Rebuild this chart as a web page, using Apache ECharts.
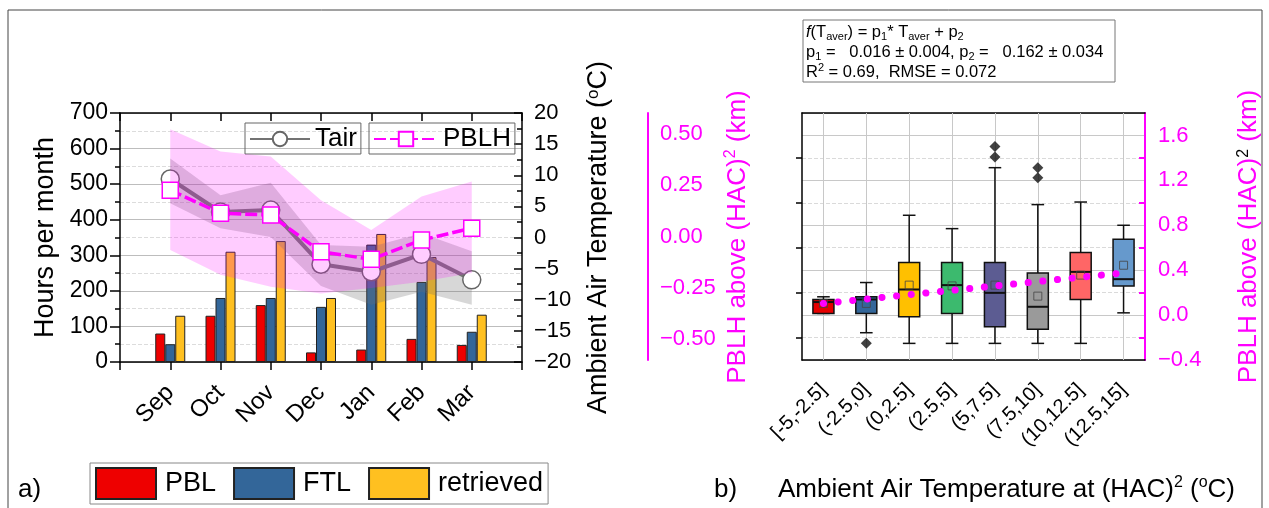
<!DOCTYPE html>
<html>
<head>
<meta charset="utf-8">
<script src="https://cdn.jsdelivr.net/npm/echarts@6/dist/echarts.min.js"></script>
<style>
  html, body { margin: 0; padding: 0; background: #fff; }
  #chart { width: 1269px; height: 508px; }
</style>
</head>
<body>
<div id="chart"></div>
<script>
// panel a) monthly hours (bars) + Tair / PBLH (lines with ranges)
const months = ['Sep', 'Oct', 'Nov', 'Dec', 'Jan', 'Feb', 'Mar']
const pbl = [80, 130, 160, 27, 35, 65, 48]
const ftl = [50, 180, 180, 155, 330, 225, 85]
const retrieved = [130, 310, 340, 180, 360, 295, 133]
const tair = [9.4, 4.1, 4.4, -4.3, -5.5, -2.7, -6.8]
const tairLow = [5.5, 1.5, 0.1, -7.8, -10.8, -8.7, -10.8]
const tairHigh = [12.7, 6.8, 8.8, -1.2, -1.5, 0.7, -2.2]
const pblh = [7.6, 3.9, 3.6, -2.3, -3.5, -0.4, 1.5]
const pblhLow = [-2.0, -6.0, -7.9, -9.0, -8.1, -7.1, -5.7]
const pblhHigh = [17.4, 13.8, 13.0, 6.0, 1.2, 6.6, 9.0]

// panel b) PBLH above (HAC)^2 per temperature bin
const bins = ['[-5,-2.5]', '(-2.5,0]', '(0,2.5]', '(2.5,5]', '(5,7.5]', '(7.5,10]', '(10,12.5]', '(12.5,15]']
const boxColors = ['#e60000', '#336699', '#ffc000', '#3cba6e', '#5c5c92', '#9a9a9a', '#ff6666', '#6699cc']
const whiskLow = [0.015, -0.157, -0.252, -0.252, -0.252, -0.252, -0.252, 0.02]
const q1 = [0.015, 0.015, -0.015, 0.015, -0.104, -0.127, 0.139, 0.258]
const median = [0.116, 0.139, 0.228, 0.267, 0.198, 0.074, 0.385, 0.32]
const q3 = [0.139, 0.163, 0.468, 0.468, 0.468, 0.376, 0.557, 0.676]
const whiskHigh = [0.163, 0.29, 0.889, 0.77, 1.313, 0.984, 1.007, 0.8]
const means = [0.104, 0.104, 0.267, 0.26, 0.267, 0.169, 0.356, 0.444]
const outliers = [[1, -0.25], [4, 1.407], [4, 1.502], [5, 1.224], [5, 1.313]]
const fitEnds = [0.104, 0.376]
const leftKmTicks = [-0.5, -0.25, 0, 0.25, 0.5]
const leftKmMinor = [-0.583, -0.417, -0.333, -0.167, -0.083, 0.083, 0.167, 0.333, 0.417, 0.583]

const FONT = 'Liberation Sans, Arial, Helvetica, sans-serif'
const MAG = '#ff00ff'
const minus = v => String(v).replace('-', '\u2212')
const pts = arr => arr.map((v, i) => [i + 1, v])

const chart = echarts.init(document.getElementById('chart'))

// shaded range between low and high, drawn once as a polygon
function band(lows, highs, color) {
  return (params, api) => {
    if (params.dataIndex !== 0) return null
    const top = highs.map((v, i) => api.coord([i + 1, v]))
    const bottom = lows.map((v, i) => api.coord([i + 1, v])).reverse()
    return { type: 'polygon', shape: { points: top.concat(bottom) }, style: { fill: color } }
  }
}

function renderBox(params, api) {
  const i = api.value(0)
  const half = api.size([1, 0])[0] * 0.245
  const cap = half * 0.6
  const lo = api.coord([i, api.value(1)])
  const b = api.coord([i, api.value(2)])
  const m = api.coord([i, api.value(3)])
  const t = api.coord([i, api.value(4)])
  const hi = api.coord([i, api.value(5)])
  const x = b[0]
  const ln = { stroke: '#111', lineWidth: 1.5 }
  return {
    type: 'group',
    children: [
      { type: 'line', shape: { x1: x, y1: hi[1], x2: x, y2: t[1] }, style: ln },
      { type: 'line', shape: { x1: x, y1: b[1], x2: x, y2: lo[1] }, style: ln },
      { type: 'line', shape: { x1: x - cap, y1: hi[1], x2: x + cap, y2: hi[1] }, style: ln },
      { type: 'line', shape: { x1: x - cap, y1: lo[1], x2: x + cap, y2: lo[1] }, style: ln },
      { type: 'rect', shape: { x: x - half, y: t[1], width: half * 2, height: b[1] - t[1] },
        style: { fill: boxColors[i], stroke: '#111', lineWidth: 1.5 } },
      { type: 'line', shape: { x1: x - half, y1: m[1], x2: x + half, y2: m[1] }, style: { stroke: '#111', lineWidth: 2 } }
    ]
  }
}

const supRich = size => ({ sup: { fontSize: size, verticalAlign: 'top', fontFamily: FONT } })
const blackLine = { onZero: false, lineStyle: { color: '#000', width: 1.5 } }

chart.setOption({
  animation: false,
  textStyle: { fontFamily: FONT, color: '#000' },
  grid: [
    { left: 120, top: 113, width: 402, height: 249 },
    { left: 802, top: 113, width: 343, height: 247 }
  ],
  legend: [
    {
      data: ['Tair'], left: 245, top: 123, itemWidth: 60, itemHeight: 18,
      borderColor: '#666', borderWidth: 1, padding: [3, 4, 2, 4],
      textStyle: { fontSize: 26, color: '#000', fontFamily: FONT }
    },
    {
      data: ['PBLH'], left: 369, top: 123, itemWidth: 64, itemHeight: 18,
      borderColor: '#666', borderWidth: 1, padding: [3, 4, 2, 4],
      textStyle: { fontSize: 26, color: '#000', fontFamily: FONT }
    },
    {
      data: ['PBL', 'FTL', 'retrieved'], left: 90, top: 463, icon: 'rect', itemWidth: 60, itemHeight: 31,
      itemGap: 17, borderColor: '#888', borderWidth: 1, padding: [4, 5, 4, 5],
      textStyle: { fontSize: 27, color: '#000', fontFamily: FONT, padding: [0, 0, 0, 4] }
    }
  ],
  xAxis: [
    {
      gridIndex: 0, type: 'value', min: 0, max: 8, interval: 1, position: 'bottom',
      axisLine: blackLine,
      axisTick: { length: 8, lineStyle: { color: '#000', width: 1.5 } },
      axisLabel: { formatter: v => months[v - 1] || '', rotate: 45, fontSize: 24, margin: 27, color: '#000' },
      splitLine: { show: false }
    },
    {
      gridIndex: 0, type: 'value', min: 0, max: 8, interval: 1, position: 'top',
      axisLine: blackLine,
      axisTick: { inside: true, length: 8, lineStyle: { color: '#000', width: 1.5 } },
      axisLabel: { show: false }, splitLine: { show: false }
    },
    {
      gridIndex: 1, type: 'category', data: bins, position: 'bottom',
      axisLine: blackLine,
      axisTick: { alignWithLabel: true, length: 10, lineStyle: { color: '#000', width: 1.5 } },
      axisLabel: { rotate: 45, fontSize: 20, margin: 27, color: '#000', interval: 0 },
      splitLine: { show: false }
    },
    {
      gridIndex: 1, type: 'category', data: bins, position: 'top',
      axisLine: blackLine,
      axisTick: { alignWithLabel: true, inside: true, length: 10, lineStyle: { color: '#000', width: 1.5 } },
      axisLabel: { show: false }, splitLine: { show: false }
    }
  ],
  yAxis: [
    {
      gridIndex: 0, type: 'value', min: 0, max: 700, interval: 100, position: 'left',
      name: 'Hours per month', nameLocation: 'middle', nameGap: 61,
      nameTextStyle: { fontSize: 27, color: '#000' },
      axisLine: { show: true, onZero: false, lineStyle: { color: '#000', width: 1.5 } },
      axisTick: { length: 10, lineStyle: { color: '#000', width: 1.5 } },
      minorTick: { show: true, splitNumber: 2, length: 5, lineStyle: { color: '#000', width: 1.5 } },
      axisLabel: { fontSize: 23, margin: 12, color: '#000' },
      splitLine: { lineStyle: { color: '#bdbdbd', width: 1 } },
      minorSplitLine: { show: true, lineStyle: { color: '#dcdcdc', type: 'dashed', width: 1 } }
    },
    {
      gridIndex: 0, type: 'value', min: -20, max: 20, interval: 5, position: 'right',
      name: 'Ambient Air Temperature ({sup|o}C)', nameLocation: 'middle', nameGap: 63,
      nameTextStyle: { fontSize: 27, color: '#000', rich: supRich(17) },
      axisLine: { show: true, onZero: false, lineStyle: { color: '#000', width: 1.5 } },
      axisTick: { inside: true, length: 8, lineStyle: { color: '#000', width: 1.5 } },
      minorTick: { show: true, splitNumber: 2, length: 5, lineStyle: { color: '#000', width: 1.5 } },
      axisLabel: { fontSize: 22, margin: 12, color: '#000', formatter: v => minus(v) },
      splitLine: { show: false }
    },
    {
      gridIndex: 1, type: 'value', min: -0.4, max: 1.8, interval: 0.4, position: 'right',
      name: 'PBLH above (HAC){sup|2} (km)', nameLocation: 'middle', nameGap: 91,
      nameTextStyle: { fontSize: 26, color: MAG, rich: supRich(16) },
      axisLine: { show: true, onZero: false, lineStyle: { color: MAG, width: 2 } },
      axisTick: { inside: true, length: 10, lineStyle: { color: MAG, width: 2 } },
      minorTick: { show: true, splitNumber: 2, length: 6, lineStyle: { color: MAG, width: 2 } },
      axisLabel: { fontSize: 22, margin: 13, color: MAG, showMaxLabel: false, formatter: v => minus(v.toFixed(1)) },
      splitLine: { lineStyle: { color: '#c8c8c8', width: 1 } },
      minorSplitLine: { show: true, lineStyle: { color: '#dadada', type: 'dashed', width: 1 } }
    },
    {
      gridIndex: 1, type: 'value', min: -0.4, max: 1.8, interval: 0.4, position: 'left',
      axisLine: { show: true, onZero: false, lineStyle: { color: '#000', width: 1.5 } },
      axisTick: { length: 10, lineStyle: { color: '#000', width: 1.5 } },
      minorTick: { show: true, splitNumber: 2, length: 6, lineStyle: { color: '#000', width: 1.5 } },
      axisLabel: { show: false }, splitLine: { show: false }
    },
    {
      gridIndex: 1, type: 'value', min: -0.6, max: 0.6, position: 'left', offset: 154,
      axisLine: { show: true, onZero: false, lineStyle: { color: MAG, width: 2 } },
      axisTick: { customValues: leftKmTicks, length: 10, lineStyle: { color: MAG, width: 2 } },
      axisLabel: { customValues: leftKmTicks, inside: true, fontSize: 22, margin: 12, color: MAG, formatter: v => minus(v.toFixed(2)) },
      splitLine: { show: false }
    },
    {
      gridIndex: 1, type: 'value', min: -0.6, max: 0.6, position: 'left', offset: 154,
      axisLine: { show: false, onZero: false },
      axisTick: { customValues: leftKmMinor, length: 6, lineStyle: { color: MAG, width: 2 } },
      axisLabel: { show: false }, splitLine: { show: false }
    }
  ],
  series: [
    { name: 'PBL', type: 'bar', z: 2, xAxisIndex: 0, yAxisIndex: 0, data: pts(pbl), barWidth: 10, barGap: '0%',
      itemStyle: { color: '#ee0000', borderColor: '#222', borderWidth: 1 } },
    { name: 'FTL', type: 'bar', z: 2, xAxisIndex: 0, yAxisIndex: 0, data: pts(ftl), barWidth: 10, barGap: '0%',
      itemStyle: { color: '#336699', borderColor: '#222', borderWidth: 1 } },
    { name: 'retrieved', type: 'bar', z: 2, xAxisIndex: 0, yAxisIndex: 0, data: pts(retrieved), barWidth: 10, barGap: '0%',
      itemStyle: { color: '#ffc020', borderColor: '#222', borderWidth: 1 } },
    { type: 'custom', z: 3, xAxisIndex: 0, yAxisIndex: 1, data: pts(tair), encode: { x: 0, y: 1 }, silent: true,
      renderItem: band(tairLow, tairHigh, 'rgba(110,110,110,0.28)') },
    { name: 'Tair', type: 'line', z: 4, xAxisIndex: 0, yAxisIndex: 1, data: pts(tair),
      symbol: 'circle', symbolSize: 18,
      lineStyle: { color: '#737373', width: 4 },
      itemStyle: { color: '#fff', borderColor: '#666', borderWidth: 1.5 } },
    { type: 'custom', z: 5, xAxisIndex: 0, yAxisIndex: 1, data: pts(pblh), encode: { x: 0, y: 1 }, silent: true,
      renderItem: band(pblhLow, pblhHigh, 'rgba(255,0,255,0.2)') },
    { name: 'PBLH', type: 'line', z: 6, xAxisIndex: 0, yAxisIndex: 1, data: pts(pblh),
      symbol: 'rect', symbolSize: 16,
      lineStyle: { color: MAG, width: 3.5, type: [12, 4] },
      itemStyle: { color: '#fff', borderColor: MAG, borderWidth: 1.5 } },
    // panel b
    { type: 'custom', z: 3, xAxisIndex: 2, yAxisIndex: 2, renderItem: renderBox,
      encode: { x: 0, y: [1, 2, 3, 4, 5] },
      data: bins.map((c, i) => [i, whiskLow[i], q1[i], median[i], q3[i], whiskHigh[i]]),
      markLine: {
        z: 1, silent: true, symbol: 'none', label: { show: false },
        lineStyle: { color: '#c8c8c8', type: 'solid', width: 1 },
        data: bins.map(b => ({ xAxis: b }))
      } },
    { type: 'scatter', z: 4, xAxisIndex: 2, yAxisIndex: 2, data: outliers, symbol: 'diamond', symbolSize: 11,
      itemStyle: { color: '#111' } },
    { type: 'scatter', z: 4, xAxisIndex: 2, yAxisIndex: 2, data: means.map((v, i) => [i, v]), symbol: 'rect', symbolSize: 8,
      itemStyle: { color: 'rgba(0,0,0,0)', borderColor: '#444', borderWidth: 1 } },
    { type: 'line', z: 5, xAxisIndex: 2, yAxisIndex: 2, data: [[0, fitEnds[0]], [bins.length - 1, fitEnds[1]]],
      symbol: 'none', lineStyle: { color: MAG, width: 7, type: [0.1, 14.6], cap: 'round' } }
  ],
  graphic: [
    { type: 'rect', shape: { x: 8, y: 10, width: 1254, height: 560 }, style: { fill: 'none', stroke: '#444', lineWidth: 1 }, silent: true },
    { type: 'text', x: 18, y: 490, style: { text: 'a)', fontSize: 26, fontFamily: FONT, fill: '#000', verticalAlign: 'middle' } },
    { type: 'text', x: 714, y: 490, style: { text: 'b)', fontSize: 26, fontFamily: FONT, fill: '#000', verticalAlign: 'middle' } },
    { type: 'text', x: 778, y: 490, style: {
      text: 'Ambient Air Temperature at (HAC){sup|2} ({sup|o}C)', fontSize: 26, fontFamily: FONT, fill: '#000',
      verticalAlign: 'middle', lineHeight: 30, rich: supRich(16) } },
    { type: 'text', x: 738, y: 237, rotation: Math.PI / 2, style: {
      text: 'PBLH above (HAC){sup|2} (km)', fontSize: 26, fontFamily: FONT, fill: MAG,
      align: 'center', verticalAlign: 'middle', lineHeight: 30,
      rich: { sup: { fontSize: 16, verticalAlign: 'top', fill: MAG, fontFamily: FONT } } } },
    { type: 'rect', shape: { x: 803, y: 20, width: 312, height: 62 }, style: { fill: '#fff', stroke: '#777', lineWidth: 1 } },
    { type: 'text', x: 806, y: 22, style: {
      text: [
        '{it|f}(T{sub|aver}) = p{sub|1}* T{sub|aver} + p{sub|2}',
        'p{sub|1} =   0.016 \u00b1 0.004, p{sub|2} =   0.162 \u00b1 0.034',
        'R{sup|2} = 0.69,  RMSE = 0.072'
      ].join('\n'),
      fontSize: 16.5, fontFamily: FONT, fill: '#000', lineHeight: 20,
      rich: {
        it: { fontStyle: 'italic', fontSize: 16.5, fontFamily: FONT, lineHeight: 20 },
        sub: { fontSize: 11, verticalAlign: 'bottom', fontFamily: FONT, lineHeight: 20 },
        sup: { fontSize: 11, verticalAlign: 'top', fontFamily: FONT, lineHeight: 20 }
      } } }
  ]
})
</script>
</body>
</html>
